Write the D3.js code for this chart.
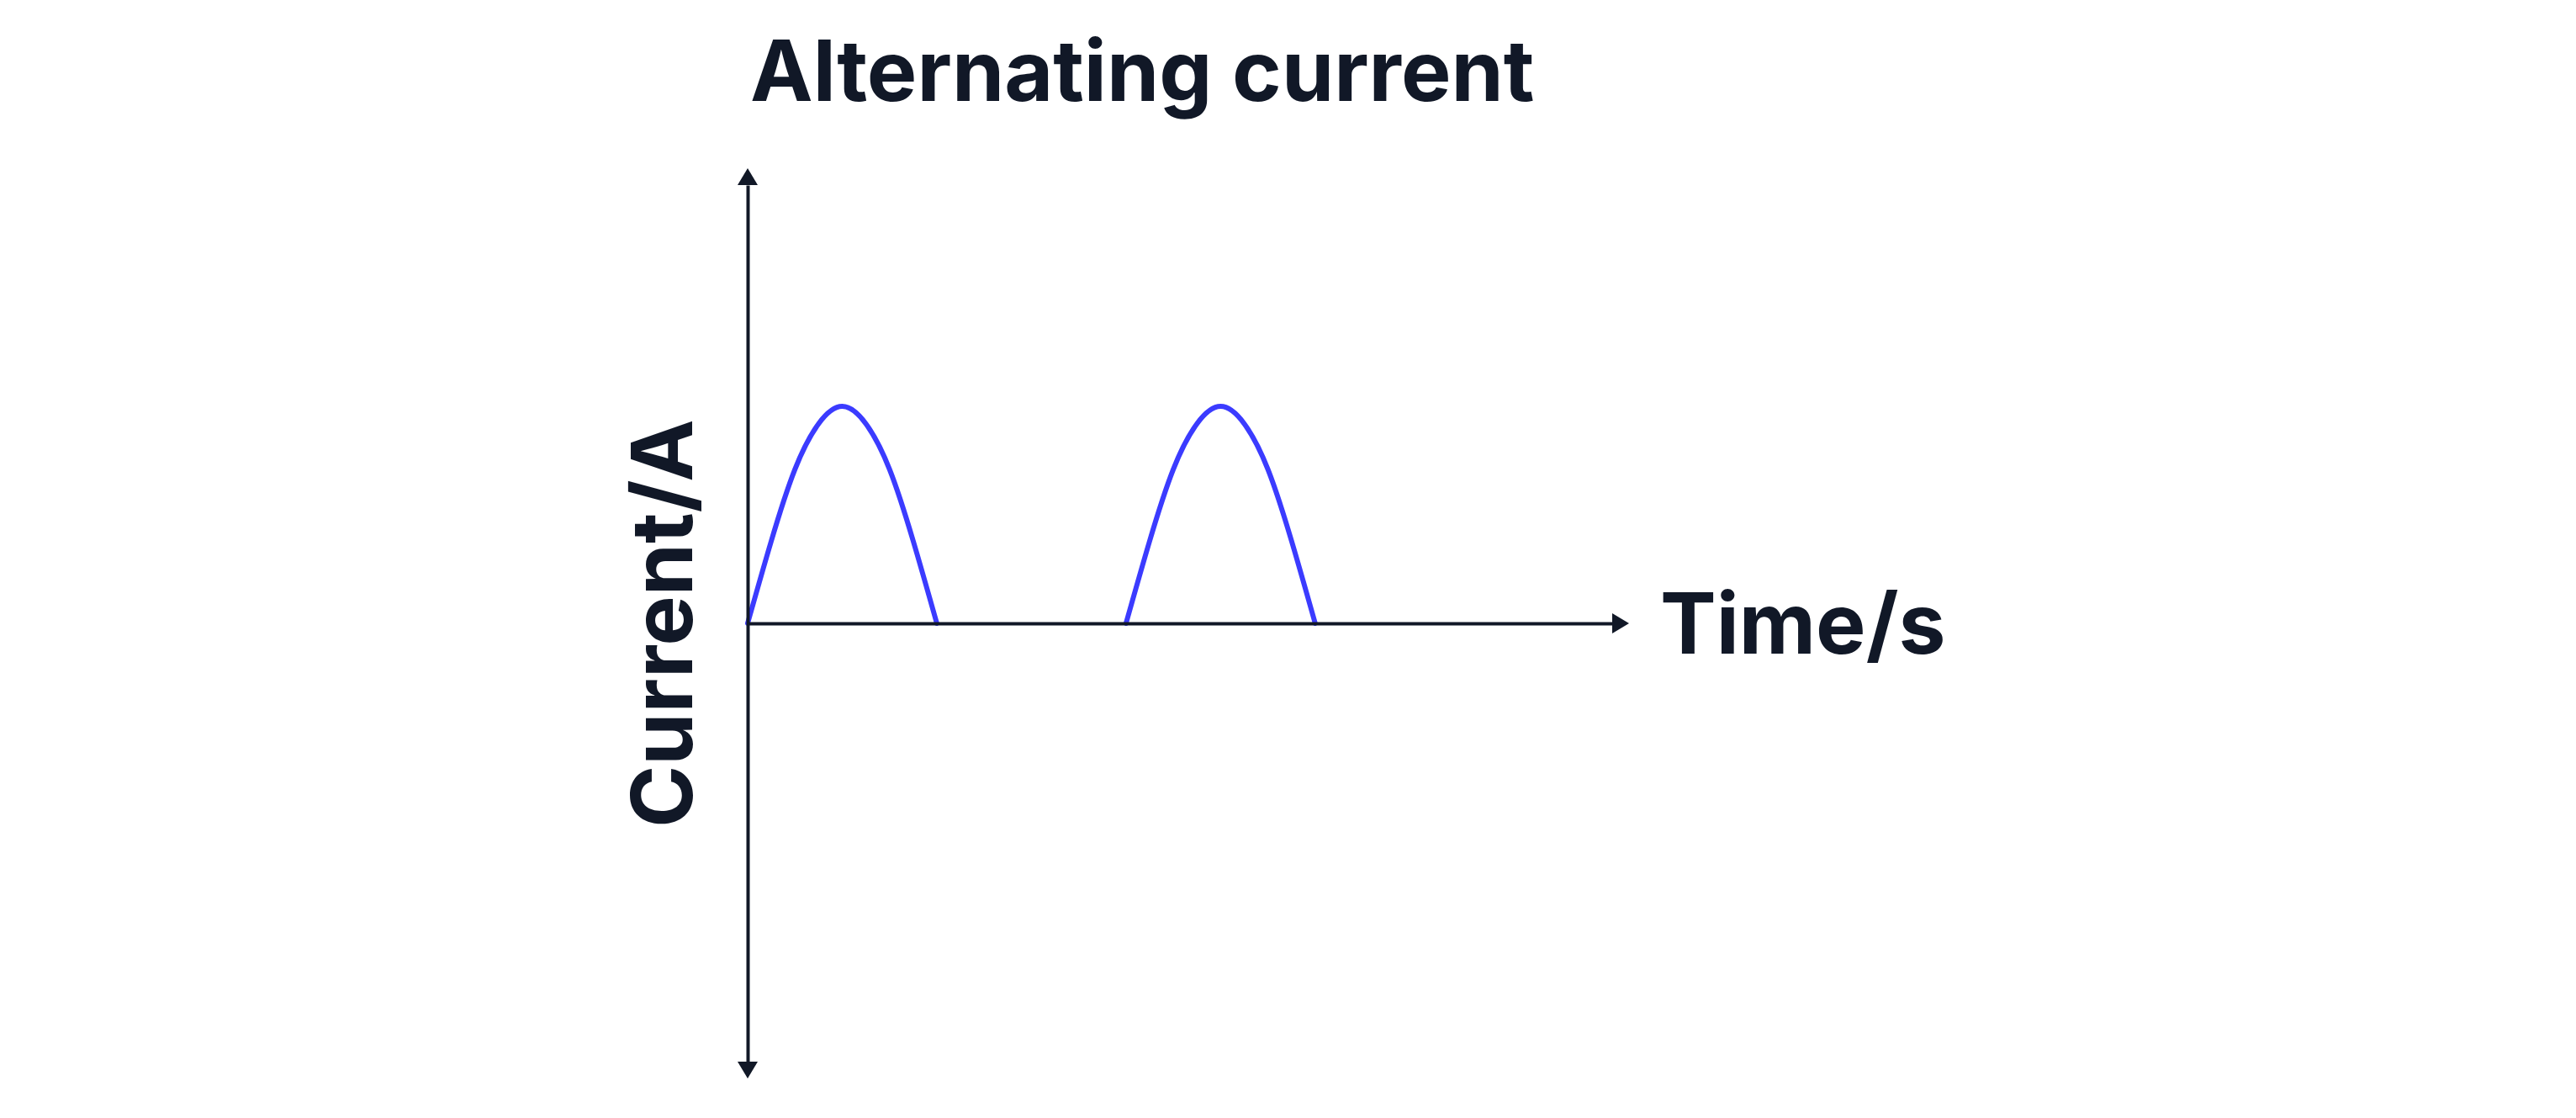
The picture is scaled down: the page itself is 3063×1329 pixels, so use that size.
<!DOCTYPE html>
<html>
<head>
<meta charset="utf-8">
<script src="https://cdn.jsdelivr.net/npm/d3@7"></script>
<style>
  body { margin: 0; background: #ffffff; }
  text { font-family: Inter, "Noto Sans", sans-serif; font-weight: 700; fill: #111827; }
</style>
</head>
<body>
<div id="chart"></div>
<script>
// half-wave rectified current (time in arbitrary seconds, one hump = 1 s)
const hump1Time = [0, 0.125, 0.25, 0.375, 0.5, 0.625, 0.75, 0.875, 1];
const hump2Time = [2, 2.125, 2.25, 2.375, 2.5, 2.625, 2.75, 2.875, 3];
const humpCurrent = [0, 0.38, 0.71, 0.92, 1, 0.92, 0.71, 0.38, 0];
const timeDomain = [0, 4.57];
const currentDomain = [-2.02, 2.02];

const titleText = "Alternating current";
const xLabel = "Time/s";
const yLabel = "Current/A";

const width = 3063; // outer width, in pixels
const height = 1329; // outer height, in pixels
const ink = "#111827"; // dark navy
const blue = "#3b3bff";
const arrowLen = 20;
const arrowHalf = 12;

const svg = d3
  .select("#chart")
  .append("svg")
  .attr("width", width)
  .attr("height", height)
  .attr("viewBox", `0 0 ${width} ${height}`);

const x = d3.scaleLinear().domain(timeDomain).range([889, 1917]);
const y = d3.scaleLinear().domain(currentDomain).range([1262, 220]);

// curve humps
const line = d3
  .line()
  .x((d) => x(d[0]))
  .y((d) => y(d[1]))
  .curve(d3.curveNatural);

[hump1Time, hump2Time].forEach((times) => {
  svg
    .append("path")
    .datum(times.map((t, i) => [t, humpCurrent[i]]))
    .attr("d", line)
    .attr("fill", "none")
    .attr("stroke", blue)
    .attr("stroke-width", 6)
    .attr("stroke-linecap", "round");
});

// axes, no ticks, just the lines
svg
  .append("g")
  .attr("transform", `translate(0, ${y(0)})`)
  .call(d3.axisBottom(x).tickValues([]).tickSizeOuter(0));

svg
  .append("g")
  .attr("transform", `translate(${x(0)}, 0)`)
  .call(d3.axisLeft(y).tickValues([]).tickSizeOuter(0));

svg.selectAll(".domain").attr("stroke", ink).attr("stroke-width", 4);

// arrow heads
const x1 = x(timeDomain[1]);
const y0 = y(0);
const xo = x(0);
const yTop = y(currentDomain[1]);
const yBot = y(currentDomain[0]);
const arrows = [
  [[x1, y0 - arrowHalf], [x1 + arrowLen, y0], [x1, y0 + arrowHalf]],
  [[xo - arrowHalf, yTop], [xo, yTop - arrowLen], [xo + arrowHalf, yTop]],
  [[xo - arrowHalf, yBot], [xo, yBot + arrowLen], [xo + arrowHalf, yBot]],
];
svg
  .selectAll(".arrow")
  .data(arrows)
  .enter()
  .append("path")
  .attr("class", "arrow")
  .attr("d", (d) => "M" + d.join("L") + "Z")
  .attr("fill", ink);

// title
svg
  .append("text")
  .attr("x", 892)
  .attr("y", 120)
  .attr("font-size", "100px")
  .text(titleText);

// axis labels
svg
  .append("text")
  .attr("x", 1974)
  .attr("y", y0 + 36)
  .attr("font-size", "100px")
  .text(xLabel);

svg
  .append("text")
  .attr("transform", `translate(823, ${y0}) rotate(-90)`)
  .attr("text-anchor", "middle")
  .attr("font-size", "100px")
  .text(yLabel);
</script>
</body>
</html>
